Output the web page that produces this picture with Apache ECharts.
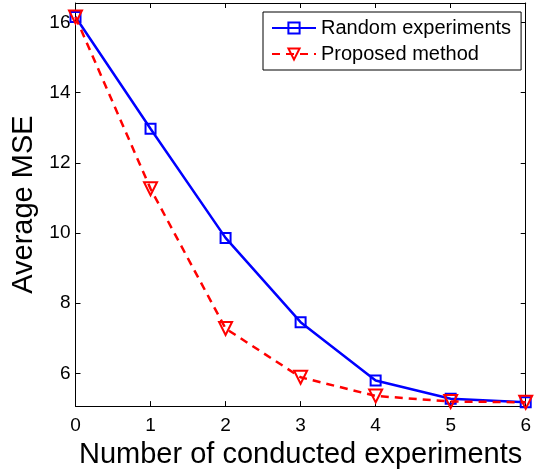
<!DOCTYPE html>
<html><head><meta charset="utf-8">
<script src="https://cdn.jsdelivr.net/npm/echarts@6/dist/echarts.min.js"></script>
<style>html,body{margin:0;padding:0;background:#fff}#c{width:534px;height:474px}</style>
</head><body><div id="c"></div>
<script>
const xValues = [0, 1, 2, 3, 4, 5, 6];
const randomExperiments = [16.15, 12.97, 9.86, 7.46, 5.80, 5.28, 5.18];
const proposedMethod = [16.15, 11.26, 7.28, 5.89, 5.36, 5.20, 5.18];
const yTicks = [6, 8, 10, 12, 14, 16];
const xTicks = [0, 1, 2, 3, 4, 5, 6];
const F = '"Liberation Sans", Arial, sans-serif';

const chart = echarts.init(document.getElementById('c'), null, {renderer: 'canvas'});
const axBase = {
  axisLine: {show: true, onZero: false, lineStyle: {color: '#000', width: 1}},
  axisTick: {show: true, inside: true, length: 5, lineStyle: {color: '#000'}},
  splitLine: {show: false}
};
chart.setOption({
  animation: false,
  backgroundColor: '#fff',
  grid: {left: 75.5, right: 6, top: 3, bottom: 62, containLabel: false},
  legend: {
    left: 263, top: 12, orient: 'vertical', itemGap: 6, itemWidth: 44, itemHeight: 14,
    borderColor: '#000', borderWidth: 1, padding: [6, 10, 6, 8], backgroundColor: '#fff',
    textStyle: {fontFamily: F, fontSize: 20, color: '#000'},
    data: ['Random experiments', 'Proposed method']
  },
  xAxis: [
    Object.assign({}, axBase, {type: 'value', min: 0, max: 6, interval: 1, position: 'bottom',
      name: 'Number of conducted experiments', nameLocation: 'middle', nameGap: 30,
      nameTextStyle: {fontFamily: F, fontSize: 29, color: '#000'},
      axisLabel: {fontFamily: F, fontSize: 19, color: '#000', margin: 10,
        formatter: v => xTicks.includes(v) ? String(v) : ''}}),
    Object.assign({}, axBase, {type: 'value', min: 0, max: 6, interval: 1, position: 'top',
      axisLabel: {show: false}})
  ],
  yAxis: [
    Object.assign({}, axBase, {type: 'value', min: 5.07, max: 16.55, position: 'left',
      name: 'Average MSE', nameLocation: 'middle', nameGap: 37, nameRotate: 90,
      nameTextStyle: {fontFamily: F, fontSize: 29, color: '#000'},
      axisTick: {show: true, inside: true, length: 5, lineStyle: {color: '#000'}, customValues: yTicks},
      axisLabel: {fontFamily: F, fontSize: 19, color: '#000', margin: 5, customValues: yTicks}}),
    Object.assign({}, axBase, {type: 'value', min: 5.07, max: 16.55, position: 'right',
      axisTick: {show: true, inside: true, length: 5, lineStyle: {color: '#000'}, customValues: yTicks},
      axisLabel: {show: false, customValues: yTicks}})
  ],
  series: [
    {
      name: 'Random experiments', type: 'line', xAxisIndex: 0, yAxisIndex: 0,
      data: xValues.map((x, i) => [x, randomExperiments[i]]),
      symbol: 'rect', symbolSize: 10, showAllSymbol: true,
      lineStyle: {color: '#0000ff', width: 2.5, type: 'solid'},
      itemStyle: {color: 'rgba(255,255,255,0)', borderColor: '#0000ff', borderWidth: 2},
      z: 3
    },
    {
      name: 'Proposed method', type: 'line', xAxisIndex: 0, yAxisIndex: 0,
      data: xValues.map((x, i) => [x, proposedMethod[i]]),
      symbol: 'triangle', symbolRotate: 180, symbolSize: 13, showAllSymbol: true,
      lineStyle: {color: '#ff0000', width: 2.5, type: [8, 6]},
      itemStyle: {color: 'rgba(255,255,255,0)', borderColor: '#ff0000', borderWidth: 2},
      z: 4
    }
  ]
});
</script></body></html>
